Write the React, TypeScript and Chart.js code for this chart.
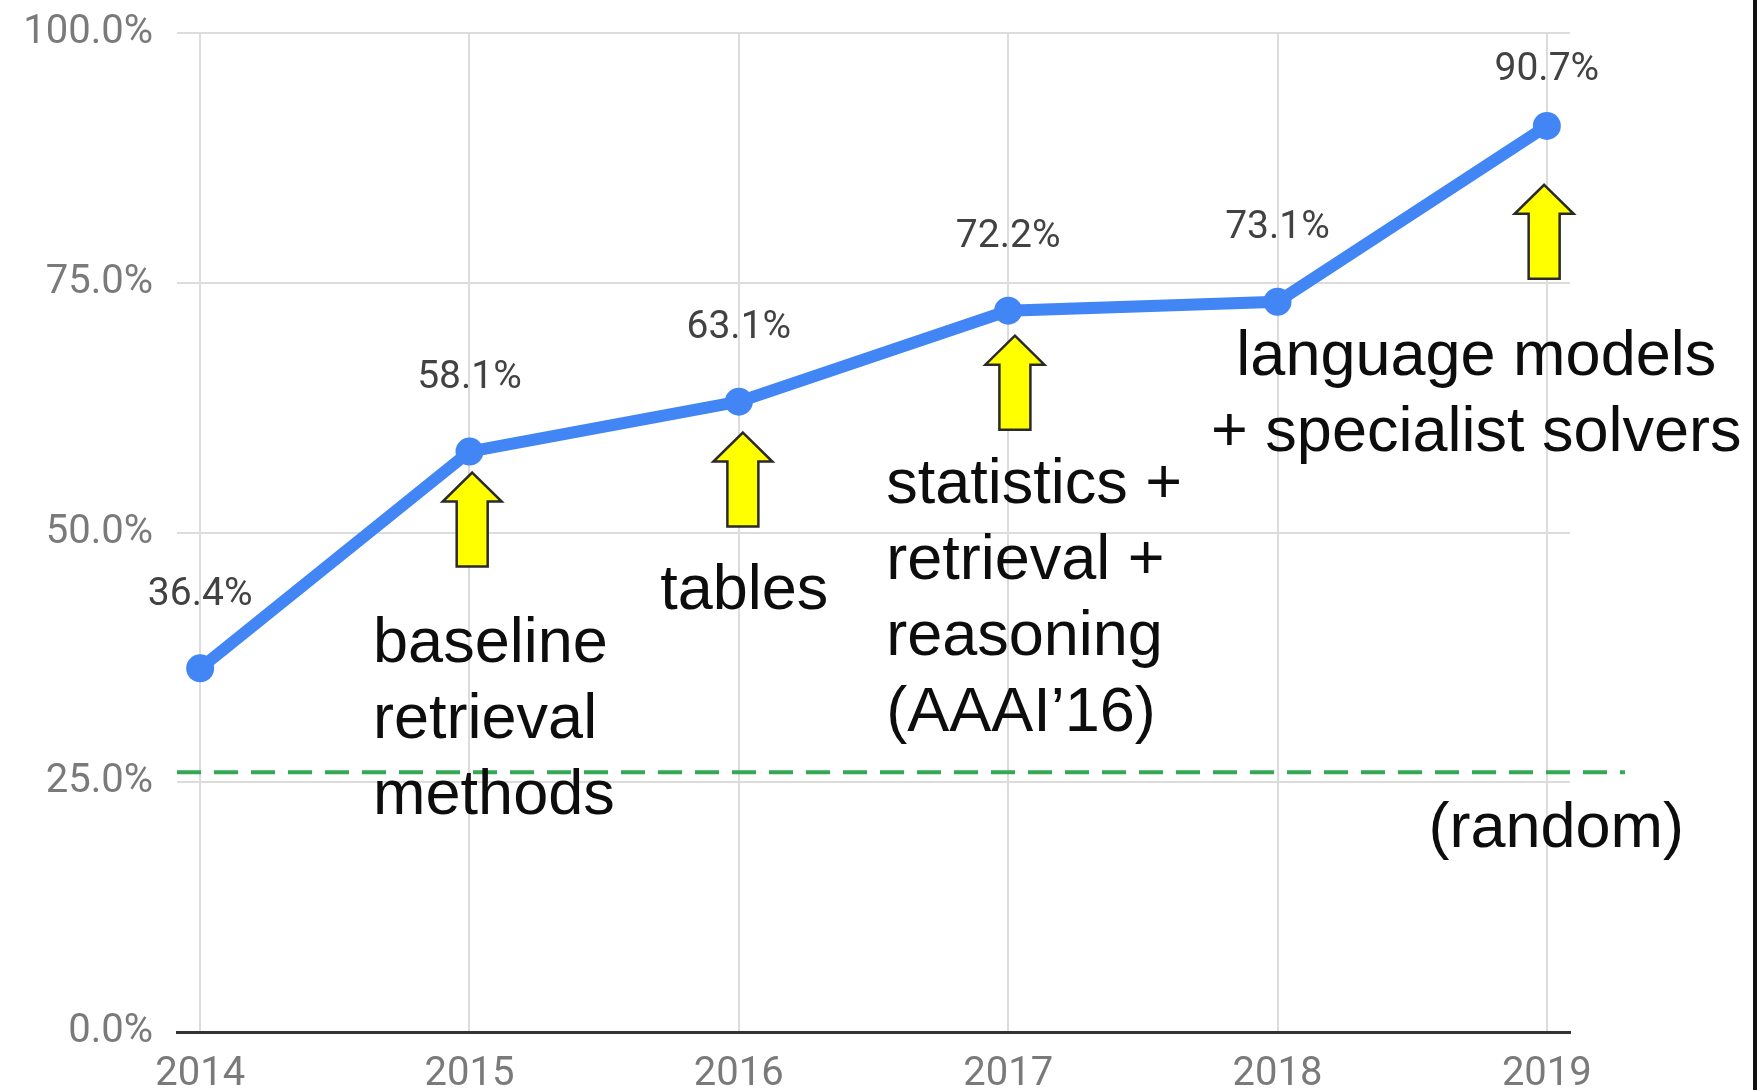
import React, { useEffect, useRef } from "react";
import { Chart, registerables } from "chart.js";

Chart.register(...registerables);

// ---- data ----
const years = [2014, 2015, 2016, 2017, 2018, 2019];
const accuracy = [36.4, 58.1, 63.1, 72.2, 73.1, 90.7];
const yTickValues = [0, 25, 50, 75, 100];
const xRange = [2013.914, 2019.086];

const randomLevel = 26;
const randomSpan = [2013.914, 2019.29];

// yellow arrows (tip position in data units)
const arrowYears = [2015.01, 2016.015, 2017.025, 2018.99];
const arrowTips = [56.0, 60.0, 69.7, 84.8];

// annotation texts (anchor in data units: x, first-line baseline value)
const noteLines = [
  ["baseline", "retrieval", "methods"],
  ["tables"],
  ["statistics +", "retrieval +", "reasoning", "(AAAI\u201916)"],
  ["language models", "+ specialist solvers"],
  ["(random)"],
];
const noteX = [2014.642, 2015.708, 2016.547, 2018.738, 2019.035];
const noteY = [37.0, 42.3, 53.0, 65.8, 18.5];
const noteAlign = ["left", "left", "left", "center", "center"];

const BLUE = "#4285f4";
const GREEN = "#34a853";

const overlayPlugin = {
  id: "overlay",
  afterDatasetsDraw(chart: any) {
    const ctx = chart.ctx;
    const xs = chart.scales.x;
    const ys = chart.scales.y;
    const area = chart.chartArea;
    ctx.save();

    // arrows
    const H = 94, headH = 29, headW = 59, shaftW = 31;
    arrowYears.forEach((yr, i) => {
      const cx = xs.getPixelForValue(yr);
      const ty = ys.getPixelForValue(arrowTips[i]);
      ctx.beginPath();
      ctx.moveTo(cx, ty);
      ctx.lineTo(cx + headW / 2, ty + headH);
      ctx.lineTo(cx + shaftW / 2, ty + headH);
      ctx.lineTo(cx + shaftW / 2, ty + H);
      ctx.lineTo(cx - shaftW / 2, ty + H);
      ctx.lineTo(cx - shaftW / 2, ty + headH);
      ctx.lineTo(cx - headW / 2, ty + headH);
      ctx.closePath();
      ctx.fillStyle = "#ffff00";
      ctx.fill();
      ctx.lineWidth = 2.5;
      ctx.lineJoin = "miter";
      ctx.strokeStyle = "#2a2a2a";
      ctx.stroke();
    });

    // value labels
    ctx.font = "39px Roboto, 'Noto Sans', sans-serif";
    ctx.fillStyle = "#424242";
    ctx.textAlign = "center";
    ctx.textBaseline = "middle";
    const meta = chart.getDatasetMeta(0);
    meta.data.forEach((pt: any, i: number) => {
      const y = Math.max(pt.y - 73, area.top + 37);
      ctx.fillText(accuracy[i].toFixed(1) + "%", pt.x, y);
    });

    // annotation texts
    ctx.font = "63px 'Liberation Sans', Arial, sans-serif";
    ctx.fillStyle = "#0d0d0d";
    ctx.textBaseline = "alphabetic";
    noteLines.forEach((lines, i) => {
      const x = xs.getPixelForValue(noteX[i]);
      const y = ys.getPixelForValue(noteY[i]);
      ctx.textAlign = noteAlign[i] as CanvasTextAlign;
      lines.forEach((t, j) => ctx.fillText(t, x, y + j * 76));
    });

    ctx.restore();
  },
};

export default function App() {
  const ref = useRef<HTMLCanvasElement | null>(null);

  useEffect(() => {
    if (!ref.current) return;
    const chart = new Chart(ref.current, {
      type: "line",
      data: {
        datasets: [
          {
            label: "accuracy",
            data: years.map((x, i) => ({ x, y: accuracy[i] })),
            borderColor: BLUE,
            backgroundColor: BLUE,
            borderWidth: 12,
            pointRadius: 14,
            pointBorderWidth: 0,
            pointBackgroundColor: BLUE,
            tension: 0,
            order: 0,
          },
          {
            label: "random",
            data: randomSpan.map((x) => ({ x, y: randomLevel })),
            borderColor: GREEN,
            borderWidth: 4,
            borderDash: [24, 13],
            pointRadius: 0,
            clip: false,
            order: 1,
          } as any,
        ],
      },
      options: {
        responsive: false,
        animation: false,
        events: [],
        layout: { padding: { left: 0, right: 187, top: 33, bottom: 0 } },
        plugins: { legend: { display: false }, tooltip: { enabled: false } },
        scales: {
          x: {
            type: "linear",
            min: xRange[0],
            max: xRange[1],
            afterBuildTicks: (s: any) => {
              s.ticks = years.map((v) => ({ value: v }));
            },
            afterFit: (s: any) => {
              s.height = 58;
            },
            ticks: {
              autoSkip: false,
              maxRotation: 0,
              padding: 19,
              color: "#7a7a7a",
              font: { family: "Roboto", size: 40 },
              callback: (v: any) => String(v),
            },
            grid: { color: "#dcdcdc", lineWidth: 2, drawTicks: false },
            border: { display: true, color: "#333333", width: 3 },
          },
          y: {
            min: 0,
            max: 100,
            afterBuildTicks: (s: any) => {
              s.ticks = yTickValues.map((v) => ({ value: v }));
            },
            afterFit: (s: any) => {
              s.width = 177;
              s.paddingTop = 0;
              s.paddingBottom = 0;
            },
            ticks: {
              padding: 24,
              color: "#7a7a7a",
              font: { family: "Roboto", size: 40 },
              callback: (v: any) => Number(v).toFixed(1) + "%",
            },
            grid: { color: "#dcdcdc", lineWidth: 2, drawTicks: false },
            border: { display: false },
          },
        },
      },
      plugins: [overlayPlugin],
    });
    return () => chart.destroy();
  }, []);

  return (
    <div style={{ position: "absolute", left: 0, top: 0, width: 1757, height: 1090, background: "#fff", overflow: "hidden" }}>
      <canvas ref={ref} width={1757} height={1090} style={{ display: "block" }} />
      <div style={{ position: "absolute", right: 0, top: 0, width: 4, height: 1090, background: "#111" }} />
    </div>
  );
}
